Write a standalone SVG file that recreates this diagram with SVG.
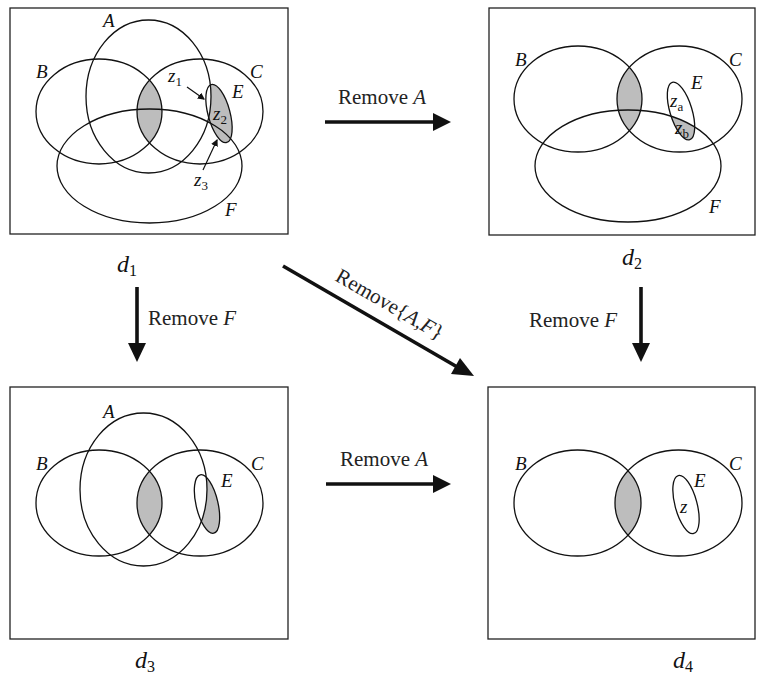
<svg xmlns="http://www.w3.org/2000/svg" width="757" height="681" viewBox="0 0 757 681">
<style>
.box{fill:none;stroke:#222;stroke-width:1.3}
.c{fill:none;stroke:#111;stroke-width:1.3}
.g{fill:#bdbdbd}
.w{fill:#fff}
.lab{font-family:"Liberation Serif","Times New Roman",serif;font-style:italic;font-size:19px;fill:#111}
.sub{font-family:"Liberation Serif","Times New Roman",serif;font-style:normal;font-size:13px;fill:#111}
.dl{font-family:"Liberation Serif","Times New Roman",serif;font-style:italic;font-size:24px;fill:#111}
.ds{font-family:"Liberation Serif","Times New Roman",serif;font-style:normal;font-size:16px;fill:#111}
.t{font-family:"Liberation Serif","Times New Roman",serif;font-size:21px;fill:#222}
.ti{font-style:italic}
.ar{stroke:#111;stroke-width:3.6;fill:none}
.hd{fill:#111}
.pt{stroke:#111;stroke-width:1.2;fill:none}
</style>
<defs>
<clipPath id="cB1"><ellipse cx="99" cy="111.5" rx="63" ry="52.5"/></clipPath>
<clipPath id="cE1"><ellipse cx="219" cy="113.5" rx="11" ry="30" transform="rotate(-15 219 113.5)"/></clipPath>
<clipPath id="cB2"><ellipse cx="578" cy="99" rx="64" ry="53"/></clipPath>
<clipPath id="cE2"><ellipse cx="681" cy="111" rx="11" ry="30" transform="rotate(-17 681 111)"/></clipPath>
<clipPath id="cB3"><ellipse cx="99" cy="503" rx="63" ry="53"/></clipPath>
<clipPath id="cE3"><ellipse cx="207" cy="504" rx="11" ry="30" transform="rotate(-13 207 504)"/></clipPath>
<clipPath id="cB4"><ellipse cx="577.5" cy="503" rx="63.5" ry="53"/></clipPath>
<marker id="m" markerWidth="6" markerHeight="6" refX="5" refY="3" orient="auto"><path d="M0,0L6,3L0,6z" fill="#111"/></marker>
</defs>

<g id="d1">
<rect class="box" x="10" y="8" width="278" height="226"/>
<ellipse class="g" cx="200" cy="111.5" rx="63" ry="52.5" clip-path="url(#cB1)"/>
<g clip-path="url(#cE1)">
<rect class="g" x="200" y="80" width="40" height="70"/>
<ellipse class="w" cx="148.5" cy="96.5" rx="62.5" ry="76.5"/>
</g>
<ellipse class="c" cx="148.5" cy="96.5" rx="62.5" ry="76.5"/>
<ellipse class="c" cx="99" cy="111.5" rx="63" ry="52.5"/>
<ellipse class="c" cx="200" cy="111.5" rx="63" ry="52.5"/>
<ellipse class="c" cx="149.5" cy="166" rx="92.5" ry="57"/>
<ellipse class="c" cx="219" cy="113.5" rx="11" ry="30" transform="rotate(-15 219 113.5)"/>
<text class="lab" x="103" y="27">A</text>
<text class="lab" x="36" y="78">B</text>
<text class="lab" x="250" y="78">C</text>
<text class="lab" x="232" y="98">E</text>
<text class="lab" x="225" y="216">F</text>
<text class="lab" x="168" y="82">z<tspan class="sub" dy="4">1</tspan></text>
<text class="lab" x="213" y="120">z<tspan class="sub" dy="4">2</tspan></text>
<text class="lab" x="194" y="186">z<tspan class="sub" dy="4">3</tspan></text>
<line class="pt" x1="187" y1="87" x2="204" y2="99" marker-end="url(#m)"/>
<line class="pt" x1="203" y1="170" x2="217" y2="140" marker-end="url(#m)"/>
<text class="dl" x="117" y="272">d<tspan class="ds" dy="4">1</tspan></text>
</g>

<g id="d2">
<rect class="box" x="489" y="8" width="266" height="227"/>
<ellipse class="g" cx="679.5" cy="99" rx="62.5" ry="53" clip-path="url(#cB2)"/>
<ellipse class="g" cx="628" cy="166" rx="93" ry="56" clip-path="url(#cE2)"/>
<ellipse class="c" cx="578" cy="99" rx="64" ry="53"/>
<ellipse class="c" cx="679.5" cy="99" rx="62.5" ry="53"/>
<ellipse class="c" cx="628" cy="166" rx="93" ry="56"/>
<ellipse class="c" cx="681" cy="111" rx="11" ry="30" transform="rotate(-17 681 111)"/>
<text class="lab" x="515" y="66">B</text>
<text class="lab" x="729" y="66">C</text>
<text class="lab" x="691" y="89">E</text>
<text class="lab" x="709" y="213">F</text>
<text class="lab" x="670" y="107">z<tspan class="sub" dy="4">a</tspan></text>
<text class="lab" x="675" y="134">z<tspan class="sub" dy="4">b</tspan></text>
<text class="dl" x="622" y="265">d<tspan class="ds" dy="4">2</tspan></text>
</g>

<g id="d3">
<rect class="box" x="10" y="387" width="278" height="252"/>
<ellipse class="g" cx="200" cy="503" rx="63" ry="53" clip-path="url(#cB3)"/>
<g clip-path="url(#cE3)">
<rect class="g" x="190" y="470" width="40" height="70"/>
<ellipse class="w" cx="143.5" cy="489.5" rx="63.5" ry="76.5"/>
</g>
<ellipse class="c" cx="143.5" cy="489.5" rx="63.5" ry="76.5"/>
<ellipse class="c" cx="99" cy="503" rx="63" ry="53"/>
<ellipse class="c" cx="200" cy="503" rx="63" ry="53"/>
<ellipse class="c" cx="207" cy="504" rx="11" ry="30" transform="rotate(-13 207 504)"/>
<text class="lab" x="103" y="418">A</text>
<text class="lab" x="36" y="470">B</text>
<text class="lab" x="251" y="470">C</text>
<text class="lab" x="221" y="487">E</text>
<text class="dl" x="135" y="668">d<tspan class="ds" dy="4">3</tspan></text>
</g>

<g id="d4">
<rect class="box" x="488" y="387" width="267" height="252"/>
<ellipse class="g" cx="678.5" cy="503" rx="63.5" ry="53" clip-path="url(#cB4)"/>
<ellipse class="c" cx="577.5" cy="503" rx="63.5" ry="53"/>
<ellipse class="c" cx="678.5" cy="503" rx="63.5" ry="53"/>
<ellipse class="c" cx="686" cy="504.5" rx="11" ry="30" transform="rotate(-15 686 504.5)"/>
<text class="lab" x="515" y="470">B</text>
<text class="lab" x="729" y="470">C</text>
<text class="lab" x="694" y="487">E</text>
<text class="lab" x="680" y="513">z</text>
<text class="dl" x="673" y="668">d<tspan class="ds" dy="4">4</tspan></text>
</g>

<g id="connectors">
<line class="ar" x1="325" y1="122" x2="436" y2="122"/>
<polygon class="hd" points="433,113 451,122 433,131"/>
<text class="t" x="338" y="104">Remove <tspan class="ti">A</tspan></text>

<line class="ar" x1="137" y1="287" x2="137" y2="346"/>
<polygon class="hd" points="128,343 137,362 146,343"/>
<text class="t" x="148" y="325">Remove <tspan class="ti">F</tspan></text>

<line class="ar" x1="641" y1="287" x2="641" y2="346"/>
<polygon class="hd" points="632,343 641,362 650,343"/>
<text class="t" x="529" y="327">Remove <tspan class="ti">F</tspan></text>

<line class="ar" x1="283" y1="266" x2="459" y2="368"/>
<polygon class="hd" points="451,374 460,358 474,376"/>
<text class="t" transform="translate(334,280) rotate(30)">Remove{<tspan class="ti">A</tspan>,<tspan class="ti">F</tspan>}</text>

<line class="ar" x1="326" y1="484" x2="436" y2="484"/>
<polygon class="hd" points="433,475 451,484 433,493"/>
<text class="t" x="340" y="466">Remove <tspan class="ti">A</tspan></text>
</g>
</svg>
